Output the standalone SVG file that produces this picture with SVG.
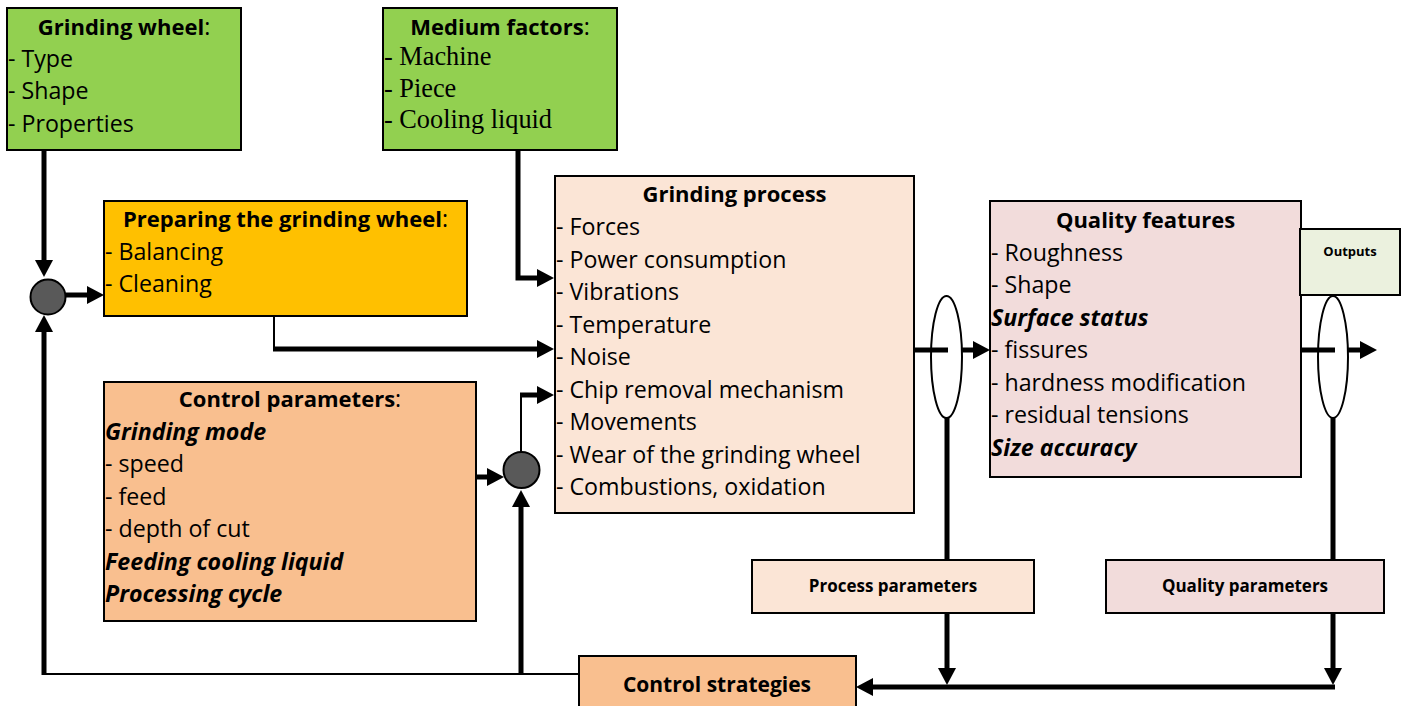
<svg xmlns="http://www.w3.org/2000/svg" width="1405" height="706" viewBox="0 0 1405 706">
<defs>
<marker id="ah" markerUnits="userSpaceOnUse" markerWidth="20" markerHeight="20" viewBox="0 -10 20 20" refX="0" refY="0" orient="auto" overflow="visible"><path d="M0,-9 L17,0 L0,9 Z" fill="#000"/></marker>
<style>
.box{stroke:#000;stroke-width:2}
.t{font-family:"Open Sans","Liberation Sans",sans-serif;font-size:23.2px;fill:#000}
.b{font-weight:bold;font-size:22px}
.bi{font-weight:bold;font-style:italic}
.n{font-weight:normal}
.s{font-family:"Liberation Serif",serif;font-size:26.3px}
.c{text-anchor:middle}
.th{fill:none;stroke:#000;stroke-width:5;stroke-linejoin:miter}
.tn{fill:none;stroke:#000;stroke-width:2}
.dot{fill:#595959;stroke:#000;stroke-width:2}
.ell{fill:none;stroke:#000;stroke-width:2}
</style>
</defs>
<rect width="1405" height="706" fill="#fff"/>

<g id="connectors">
  <path class="th" d="M44,150 V260" marker-end="url(#ah)"/>
  <path class="th" d="M66,295 H87" marker-end="url(#ah)"/>
  <path class="tn" d="M579,674 H43"/>
  <path class="th" d="M44,675 V332" marker-end="url(#ah)"/>
  <path class="tn" d="M274,316 V349"/>
  <path class="th" d="M273,349 H537" marker-end="url(#ah)"/>
  <path class="th" d="M518,150 V278 H537" marker-end="url(#ah)"/>
  <path class="th" d="M476,477 H487" marker-end="url(#ah)"/>
  <path class="tn" d="M521,452 V395"/>
  <path class="th" d="M520,395 H537" marker-end="url(#ah)"/>
  <path class="th" d="M521,675 V507" marker-end="url(#ah)"/>
  <path class="th" d="M914,350 H948"/>
  <path class="th" d="M962,350 H973" marker-end="url(#ah)"/>
  <path class="th" d="M1301,350 H1335"/>
  <path class="th" d="M1348,350 H1360" marker-end="url(#ah)"/>
  <ellipse class="ell" cx="946.5" cy="357" rx="15.5" ry="61"/>
  <ellipse class="ell" cx="1333" cy="357" rx="15" ry="61"/>
  <path class="th" d="M947,418 V560"/>
  <path class="th" d="M1333,418 V560"/>
  <path class="th" d="M947,613 V668" marker-end="url(#ah)"/>
  <path class="th" d="M1333,613 V668" marker-end="url(#ah)"/>
  <path class="th" d="M1335,687 H873" marker-end="url(#ah)"/>
</g>

<g id="grinding-wheel">
  <rect class="box" x="7" y="8" width="234" height="142" fill="#92D050"/>
  <text class="t c" x="124" y="34.5"><tspan class="b">Grinding wheel</tspan>:</text>
  <text class="t" x="8" y="66.5">- Type</text>
  <text class="t" x="8" y="99">- Shape</text>
  <text class="t" x="8" y="131.5">- Properties</text>
</g>

<g id="medium-factors">
  <rect class="box" x="383" y="8" width="234" height="142" fill="#92D050"/>
  <text class="t c" x="500" y="34.5"><tspan class="b">Medium factors</tspan>:</text>
  <text class="t s" x="384" y="65">- Machine</text>
  <text class="t s" x="384" y="96.5">- Piece</text>
  <text class="t s" x="384" y="128">- Cooling liquid</text>
</g>

<g id="circle-left">
  <circle class="dot" cx="48" cy="297" r="17.5"/>
</g>

<g id="preparing">
  <rect class="box" x="104" y="201" width="363" height="115" fill="#FFC000"/>
  <text class="t c" x="285.5" y="227"><tspan class="b">Preparing the grinding wheel</tspan>:</text>
  <text class="t" x="105" y="259.5">- Balancing</text>
  <text class="t" x="105" y="292">- Cleaning</text>
</g>

<g id="control-parameters">
  <rect class="box" x="104" y="382" width="372" height="239" fill="#F9BF8F"/>
  <text class="t c" x="290" y="407"><tspan class="b">Control parameters</tspan>:</text>
  <text class="t bi" x="105" y="440">Grinding mode</text>
  <text class="t" x="105" y="472">- speed</text>
  <text class="t" x="105" y="505">- feed</text>
  <text class="t" x="105" y="537">- depth of cut</text>
  <text class="t bi" x="105" y="570">Feeding cooling liquid</text>
  <text class="t bi" x="105" y="602">Processing cycle</text>
</g>

<g id="circle-right">
  <circle class="dot" cx="521.5" cy="470" r="18"/>
</g>

<g id="grinding-process">
  <rect class="box" x="555" y="176" width="359" height="337" fill="#FBE5D6"/>
  <text class="t b c" x="734.5" y="202">Grinding process</text>
  <text class="t" x="556" y="235">- Forces</text>
  <text class="t" x="556" y="267.5">- Power consumption</text>
  <text class="t" x="556" y="300">- Vibrations</text>
  <text class="t" x="556" y="332.5">- Temperature</text>
  <text class="t" x="556" y="365">- Noise</text>
  <text class="t" x="556" y="397.5">- Chip removal mechanism</text>
  <text class="t" x="556" y="430">- Movements</text>
  <text class="t" x="556" y="462.5">- Wear of the grinding wheel</text>
  <text class="t" x="556" y="495">- Combustions, oxidation</text>
</g>

<g id="quality-features">
  <rect class="box" x="990" y="201" width="311" height="276" fill="#F2DCDB"/>
  <text class="t b c" x="1145.5" y="228">Quality features</text>
  <text class="t" x="991" y="260.5">- Roughness</text>
  <text class="t" x="991" y="293">- Shape</text>
  <text class="t bi" x="991" y="325.5">Surface status</text>
  <text class="t" x="991" y="358">- fissures</text>
  <text class="t" x="991" y="390.5">- hardness modification</text>
  <text class="t" x="991" y="423">- residual tensions</text>
  <text class="t bi" x="991" y="455.5">Size accuracy</text>
</g>

<g id="outputs">
  <rect class="box" x="1300" y="229" width="100" height="66" fill="#EBF1DE"/>
  <text class="t b c" x="1350" y="256" style="font-size:13px">Outputs</text>
</g>

<g id="process-parameters">
  <rect class="box" x="752" y="560" width="282" height="53" fill="#FBE5D6"/>
  <text class="t b c" x="893" y="592" style="font-size:17px">Process parameters</text>
</g>

<g id="quality-parameters">
  <rect class="box" x="1106" y="560" width="278" height="53" fill="#F2DCDB"/>
  <text class="t b c" x="1245" y="592" style="font-size:17px">Quality parameters</text>
</g>

<g id="control-strategies">
  <rect class="box" x="579" y="656" width="277" height="56" fill="#F9BF8F"/>
  <text class="t b c" x="717" y="692" style="font-size:21px">Control strategies</text>
</g>
</svg>
